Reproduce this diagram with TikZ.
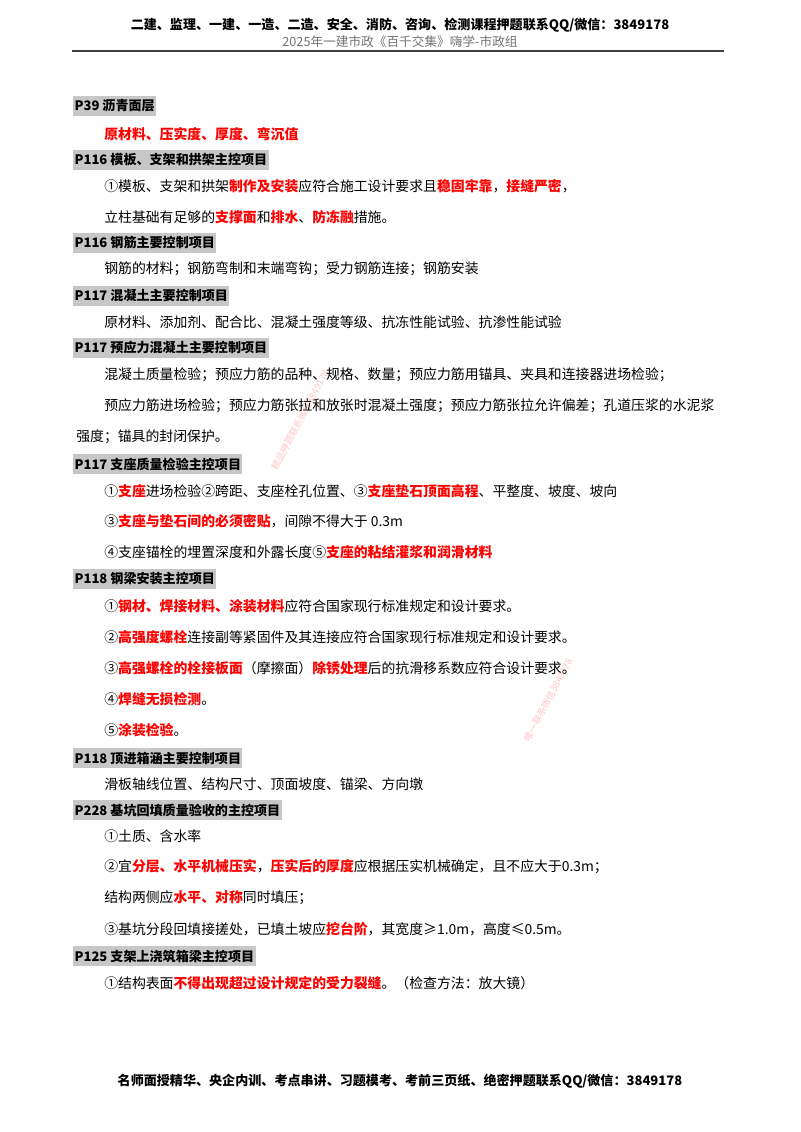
\documentclass[tikz,border=0pt]{standalone}
\usepackage{fontspec}
\setmainfont{Noto Sans CJK SC}
\newcommand{\rr}[1]{\textcolor{red}{\bfseries #1}}
\begin{document}
\begin{tikzpicture}[x=0.75pt,y=-0.75pt,
  hd/.style={anchor=west,fill=black!22,inner xsep=1pt,inner ysep=2.6pt,font=\fontsize{9.8}{11}\selectfont\bfseries},
  bd/.style={anchor=west,inner sep=0pt,font=\fontsize{10.4}{12}\selectfont},
  wm/.style={text=red!22,font=\fontsize{7}{8}\selectfont,rotate=62}]
\useasboundingbox[fill=white] (0,0) rectangle (800,1132);
\node[font=\fontsize{9.8}{12}\selectfont\bfseries] (h1) at (400,25) {二建、监理、一建、一造、二造、安全、消防、咨询、检测课程押题联系QQ/微信：3849178};
\node[font=\fontsize{9.5}{11}\selectfont,text=black!55] (h2) at (400,42) {2025年一建市政《百千交集》嗨学-市政组};
\draw[line width=1pt,black!75] (72,51) coordinate (r1) -- (724,51) coordinate (r2);
\node[wm] (w1) at (300,420) {精品押题联系微信3849178};
\node[wm] (w2) at (548,700) {唯一联系微信3849178};
\node[hd] (a1) at (73,106) {P39 沥青面层};
\node[bd] (a2) at (104,134) {\rr{原材料、压实度、厚度、弯沉值}};
\node[hd] (b1) at (73,160) {P116 模板、支架和拱架主控项目};
\node[bd] (b2) at (104,186) {①模板、支架和拱架\rr{制作及安装}应符合施工设计要求且\rr{稳固牢靠}，\rr{接缝严密}，};
\node[bd] (b3) at (104,217) {立柱基础有足够的\rr{支撑面}和\rr{排水}、\rr{防冻融}措施。};
\node[hd] (c1) at (73,243) {P116 钢筋主要控制项目};
\node[bd] (c2) at (104,269) {钢筋的材料；钢筋弯制和末端弯钩；受力钢筋连接；钢筋安装};
\node[hd] (d1) at (73,296) {P117 混凝土主要控制项目};
\node[bd] (d2) at (104,322) {原材料、添加剂、配合比、混凝土强度等级、抗冻性能试验、抗渗性能试验};
\node[hd] (e1) at (73,348) {P117 预应力混凝土主要控制项目};
\node[bd] (e2) at (104,375) {混凝土质量检验；预应力筋的品种、规格、数量；预应力筋用锚具、夹具和连接器进场检验；};
\node[bd] (e3) at (104,406) {预应力筋进场检验；预应力筋张拉和放张时混凝土强度；预应力筋张拉允许偏差；孔道压浆的水泥浆};
\node[bd] (e4) at (76,437) {强度；锚具的封闭保护。};
\node[hd] (f1) at (73,464) {P117 支座质量检验主控项目};
\node[bd] (f2) at (104,491) {①\rr{支座}进场检验②跨距、支座栓孔位置、③\rr{支座垫石顶面高程}、平整度、坡度、坡向};
\node[bd] (f3) at (104,521) {③\rr{支座与垫石间的必须密贴}，间隙不得大于 0.3m};
\node[bd] (f4) at (104,552) {④支座锚栓的埋置深度和外露长度⑤\rr{支座的粘结灌浆和润滑材料}};
\node[hd] (g1) at (73,579) {P118 钢梁安装主控项目};
\node[bd] (g2) at (104,606) {①\rr{钢材、焊接材料、涂装材料}应符合国家现行标准规定和设计要求。};
\node[bd] (g3) at (104,637) {②\rr{高强度螺栓}连接副等紧固件及其连接应符合国家现行标准规定和设计要求。};
\node[bd] (g4) at (104,668) {③\rr{高强螺栓的栓接板面}（摩擦面）\rr{除锈处理}后的抗滑移系数应符合设计要求。};
\node[bd] (g5) at (104,699) {④\rr{焊缝无损检测}。};
\node[bd] (g6) at (104,730) {⑤\rr{涂装检验}。};
\node[hd] (h1b) at (73,758) {P118 顶进箱涵主要控制项目};
\node[bd] (h2b) at (104,784) {滑板轴线位置、结构尺寸、顶面坡度、锚梁、方向墩};
\node[hd] (i1) at (73,810) {P228 基坑回填质量验收的主控项目};
\node[bd] (i2) at (104,836) {①土质、含水率};
\node[bd] (i3) at (104,867) {②宜\rr{分层、水平机械压实}，\rr{压实后的厚度}应根据压实机械确定，且不应大于0.3m；};
\node[bd] (i4) at (104,898) {结构两侧应\rr{水平、对称}同时填压；};
\node[bd] (i5) at (104,929) {③基坑分段回填接搓处，已填土坡应\rr{挖台阶}，其宽度≥1.0m，高度≤0.5m。};
\node[hd] (j1) at (73,956) {P125 支架上浇筑箱梁主控项目};
\node[bd] (j2) at (104,983) {①结构表面\rr{不得出现超过设计规定的受力裂缝}。（检查方法：放大镜）};
\node[font=\fontsize{9.8}{12}\selectfont\bfseries] (ft) at (400,1081) {名师面授精华、央企内训、考点串讲、习题模考、考前三页纸、绝密押题联系QQ/微信：3849178};
\end{tikzpicture}
\end{document}
